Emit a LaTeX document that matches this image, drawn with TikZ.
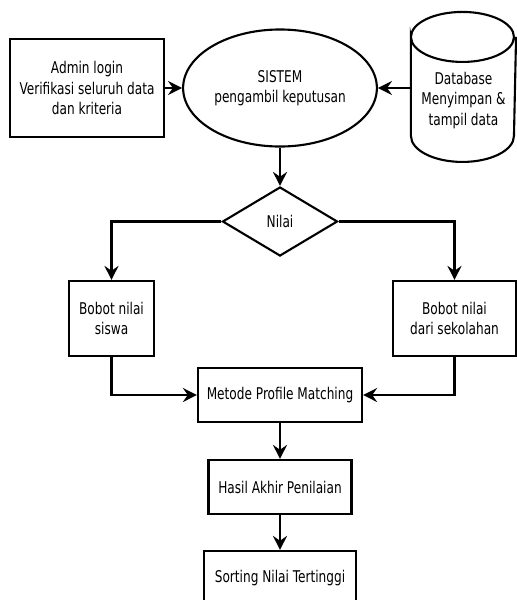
\documentclass[tikz,border=0pt]{standalone}
\usepackage{fontspec}
\setmainfont{DejaVu Sans}[FakeStretch=0.75]
\usetikzlibrary{shapes.geometric}
\usetikzlibrary{arrows.meta}

\begin{document}
\begin{tikzpicture}[x=0.025cm, y=-0.025cm,
    box/.style={draw, line width=1.5pt, align=center, inner sep=2pt, font=\fontsize{11.5}{14.5}\selectfont},
    arr/.style={line width=1.5pt, -{Stealth[length=10pt, width=10pt, inset=3.5pt]}}]

    \clip (0,0) rectangle (517,600);

    \node[box, minimum width=3.85cm, minimum height=2.45cm] at (87,88) (Admin) {Admin login\\Verifikasi seluruh data\\dan kriteria};
    \node[box, ellipse, minimum width=4.325cm, minimum height=2.925cm] at (280,88) (Sistem) {SISTEM\\pengambil keputusan};
    \node[box, draw=none, minimum width=2.575cm, minimum height=3.125cm] at (463.5,100.5) (Db) {Database\\Menyimpan \&\\tampil data};
    \draw[line width=1.5pt] (Db.north west) arc[start angle=180, end angle=0, x radius=1.2875cm, y radius=0.625cm]
        arc[start angle=0, end angle=-180, x radius=1.2875cm, y radius=0.625cm] -- ++(0,99)
        arc[start angle=180, end angle=360, x radius=1.2875cm, y radius=0.65cm] -- (Db.north east);
    \node[box, diamond, inner sep=0pt, minimum width=2.875cm, minimum height=1.725cm] at (280,221.5) (Nilai) {Nilai};
    \node[box, minimum width=2.125cm, minimum height=1.875cm] at (111.5,318.5) (Siswa) {Bobot nilai\\siswa};
    \node[box, minimum width=3.075cm, minimum height=1.875cm] at (454.5,318.5) (Sekolah) {Bobot nilai\\dari sekolahan};
    \node[box, minimum width=4.1cm, minimum height=1.35cm] at (280,395) (Metode) {Metode Profile Matching};
    \node[box, minimum width=3.575cm, minimum height=1.35cm] at (280,487) (Hasil) {Hasil Akhir Penilaian};
    \node[box, minimum width=3.8cm, minimum height=1.35cm] at (280,578) (Sorting) {Sorting Nilai Tertinggi};

    \draw[arr] (Admin.east) -- (Sistem.west);
    \draw[arr] (Db.west |- Sistem) -- (Sistem.east);
    \draw[arr] (Sistem) -- (Nilai);
    \draw[arr] (Nilai.west) -| (Siswa.north);
    \draw[arr] (Nilai.east) -| (Sekolah.north);
    \draw[arr] (Siswa.south) |- (Metode.west);
    \draw[arr] (Sekolah.south) |- (Metode.east);
    \draw[arr] (Metode) -- (Hasil);
    \draw[arr] (Hasil) -- (Sorting);

\end{tikzpicture}
\end{document}
